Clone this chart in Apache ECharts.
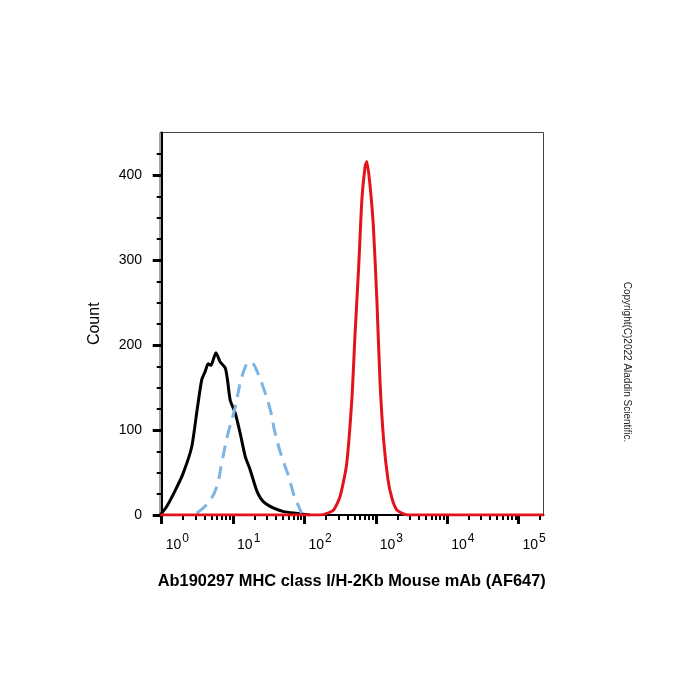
<!DOCTYPE html>
<html>
<head>
<meta charset="utf-8">
<script src="https://cdn.jsdelivr.net/npm/echarts@6/dist/echarts.min.js"></script>
<style>
    html, body { margin: 0; padding: 0; background: #fff; }
    #chart { width: 700px; height: 700px; }
</style>
</head>
<body>
<div id="chart"></div>
<script>
// x values are decades (log10 of fluorescence intensity)
var blackX = [-0.02, 0.07, 0.19, 0.30, 0.42, 0.49, 0.56, 0.61, 0.65, 0.69, 0.72, 0.76, 0.82, 0.89, 0.92, 0.96, 1.03, 1.10, 1.17, 1.24, 1.33, 1.42, 1.57, 1.71, 1.89, 2.08];
var blackY = [0, 10, 29, 49, 80, 120, 159, 169, 178, 176, 182, 191, 180, 173, 160, 135, 120, 96, 69, 53, 29, 16, 8, 4, 2, 0];

var blueX = [0.49, 0.65, 0.77, 0.84, 0.93, 1.03, 1.10, 1.17, 1.22, 1.27, 1.31, 1.42, 1.52, 1.59, 1.68, 1.78, 1.85, 1.92, 1.96];
var blueY = [2, 14, 33, 61, 96, 127, 155, 174, 180, 179, 174, 151, 124, 96, 69, 45, 24, 10, 2];

var redX = [-0.02, 2.22, 2.32, 2.41, 2.50, 2.59, 2.665, 2.71, 2.76, 2.805, 2.85, 2.875, 2.92, 2.965, 3.015, 3.06, 3.11, 3.17, 3.225, 3.295, 3.44, 5.35];
var redY = [0, 0, 2, 6, 22, 59, 137, 214, 292, 371, 410, 416, 387, 341, 253, 155, 88, 42, 20, 6, 0, 0];

var xMajor = [0, 1, 2, 3, 4, 5];
var xMinorMult = [2, 3, 4, 5, 6, 7, 8, 9];
var yMajor = [0, 100, 200, 300, 400];
var yMinor = [25, 50, 75, 125, 150, 175, 225, 250, 275, 325, 350, 375, 425];

var xMinor = [];
for (var d = 0; d <= 5; d++) {
    xMinorMult.forEach(function (m) {
        var v = d + Math.log10(m);
        if (v < 5.35) xMinor.push(v);
    });
}

function pairs(xs, ys) {
    return xs.map(function (x, i) { return [x, ys[i]]; });
}

var myChart = echarts.init(document.getElementById('chart'));

var option = {
    backgroundColor: '#fff',
    animation: false,
    textStyle: {fontFamily: 'Liberation Sans, Arial, sans-serif'},
    grid: {
        left: 160, right: 156.5, top: 132.5, bottom: 185,
        show: true, borderColor: '#444', borderWidth: 1
    },
    xAxis: [
        {
            type: 'value', min: -0.024, max: 5.35,
            name: 'Ab190297 MHC class I/H-2Kb Mouse mAb (AF647)',
            nameLocation: 'middle', nameGap: 58,
            nameTextStyle: {fontSize: 16.4, fontWeight: 'bold', color: '#000'},
            splitLine: {show: false},
            axisLine: {lineStyle: {color: '#000', width: 2}},
            axisTick: {customValues: xMajor, length: 9, lineStyle: {color: '#000', width: 3}},
            axisLabel: {
                customValues: xMajor, margin: 18, align: 'left', padding: [0, 0, 0, 4],
                formatter: function (v) { return '{b|10}{s|' + v + '}'; },
                rich: {
                    b: {fontSize: 14, color: '#000'},
                    s: {fontSize: 12, color: '#000', padding: [0, 0, 13, 1]}
                }
            }
        },
        {
            type: 'value', min: -0.024, max: 5.35, position: 'bottom',
            splitLine: {show: false},
            axisLine: {show: false},
            axisTick: {customValues: xMinor, length: 5, lineStyle: {color: '#000', width: 2}},
            axisLabel: {show: false}
        }
    ],
    yAxis: [
        {
            type: 'value', min: 0, max: 450, position: 'left',
            name: 'Count', nameLocation: 'middle', nameGap: 57, nameRotate: 90,
            nameTextStyle: {fontSize: 16, color: '#000'},
            splitLine: {show: false},
            axisLine: {show: true, lineStyle: {color: '#000', width: 2}},
            axisTick: {show: true, customValues: yMajor, length: 9, lineStyle: {color: '#000', width: 3}},
            axisLabel: {customValues: yMajor, margin: 18, fontSize: 14, color: '#000'}
        },
        {
            type: 'value', min: 0, max: 450, position: 'left', offset: 0,
            splitLine: {show: false},
            axisLine: {show: false},
            axisTick: {show: true, customValues: yMinor, length: 5, lineStyle: {color: '#000', width: 2}},
            axisLabel: {show: false}
        }
    ],
    graphic: [
        {
            type: 'text', x: 627, y: 362, rotation: -Math.PI / 2,
            style: {
                text: 'Copyright(C)2022 Aladdin Scientific.',
                fontSize: 10, fill: '#222', align: 'center', verticalAlign: 'middle',
                fontFamily: 'Liberation Sans, Arial, sans-serif'
            }
        }
    ],
    series: [
        {
            name: 'black', type: 'line', showSymbol: false, smooth: 0.2,
            data: pairs(blackX, blackY),
            lineStyle: {color: '#000', width: 3}
        },
        {
            name: 'blue', type: 'line', showSymbol: false, smooth: 0.4,
            data: pairs(blueX, blueY),
            lineStyle: {color: '#7db4e6', width: 3, type: [13, 8]}
        },
        {
            name: 'red', type: 'line', showSymbol: false, smooth: 0.2,
            data: pairs(redX, redY),
            lineStyle: {color: '#e3131b', width: 3}
        }
    ]
};

myChart.setOption(option);

window.addEventListener('resize', function () {
    myChart.resize();
});
</script>
</body>
</html>
